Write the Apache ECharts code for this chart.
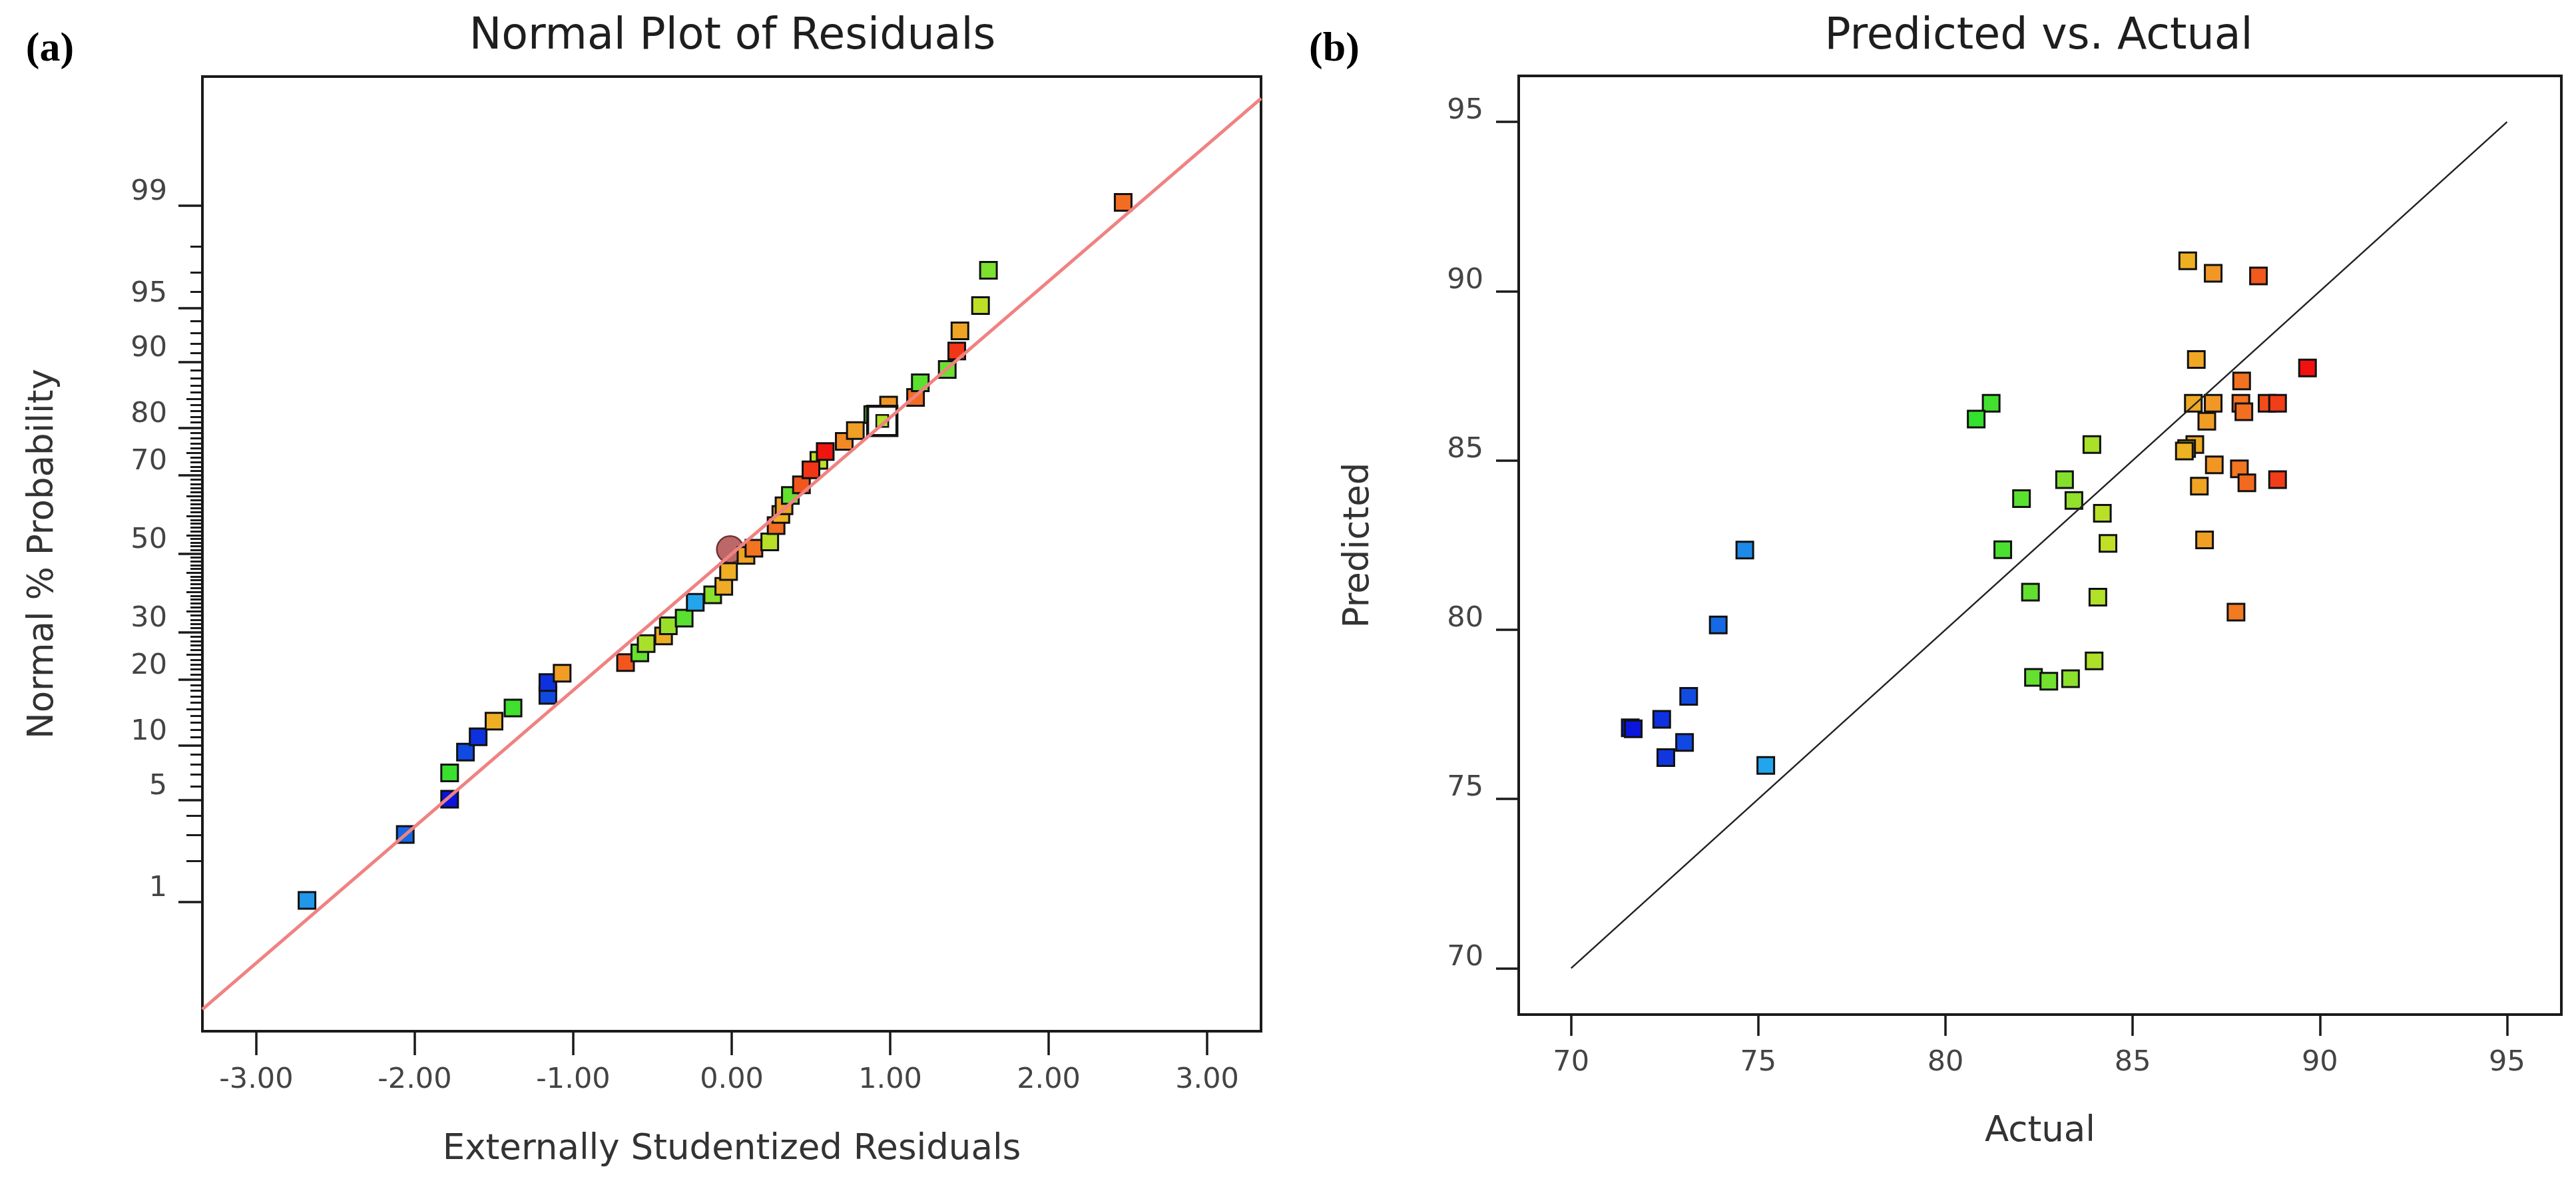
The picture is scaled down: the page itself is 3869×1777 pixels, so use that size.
<!DOCTYPE html>
<html><head><meta charset="utf-8">
<script src="https://cdn.jsdelivr.net/npm/echarts@6/dist/echarts.min.js"></script>
<style>html,body{margin:0;padding:0;background:#fff}#c{width:3869px;height:1777px}</style>
</head><body><div id="c"></div>
<script>
// ---------- Panel (a): Normal Plot of Residuals ----------
const residA = [-2.68,-2.06,-1.78,-1.78,-1.68,-1.60,-1.50,-1.38,-1.16,-1.16,-1.07,-0.67,-0.58,-0.54,-0.43,-0.40,-0.30,-0.23,-0.12,-0.05,-0.02,0.09,0.14,0.24,0.28,0.31,0.33,0.37,0.44,0.55,0.50,0.59,0.71,0.78,0.89,0.99,1.16,1.19,1.36,1.42,1.44,1.57,1.62,2.47];
const probA = [1.03,3.04,5.05,7.16,9.26,11.07,13.18,15.15,17.23,19.49,21.25,23.37,25.4,27.46,29.18,31.56,33.4,37.3,39.2,41.4,45.3,49.6,51.5,53.2,57.5,60.4,62.6,65.2,67.8,73.4,71.3,75.3,77.4,79.5,82.4,84.0,85.2,87.35,89.1,91.25,93.2,95.15,97.1,99.06];
const respA = [74.9,73.9,71.6,81.0,73.1,72.4,86.5,81.2,73.1,72.4,87.0,88.4,82.4,83.9,86.6,83.6,82.0,75.2,83.3,86.6,86.5,86.8,87.9,84.2,88.0,86.4,86.9,82.3,88.4,84.3,89.0,89.6,87.5,86.9,82.3,87.2,88.0,82.0,82.5,89.0,86.8,84.3,83.0,88.0];
const selResid = [0.95], selProb = [81.3], selResp = [84.1];
const markResid = [-0.01], markProb = [51.2];
const lineResid = [-3.34, 3.34], lineProb = [0.117, 99.883];
const residTicks = [-3, -2, -1, 0, 1, 2, 3];
const probLabels = [1, 5, 10, 20, 30, 50, 70, 80, 90, 95, 99];
const probMedium = [2, 3, 4, 15, 25, 35, 40, 45, 55, 60, 65, 75, 85];

// ---------- Panel (b): Predicted vs. Actual ----------
const actual = [73.93,73.14,72.42,71.58,71.66,73.03,72.53,75.2,74.64,82.27,82.35,82.76,83.34,83.97,84.07,86.47,87.15,88.36,86.7,89.67,87.91,81.22,80.82,86.62,87.15,87.89,87.97,88.59,88.87,86.98,83.91,86.66,86.44,86.38,87.18,87.85,88.05,88.87,86.78,83.18,82.03,83.43,84.19,81.53,84.34,86.92,87.76];
const predicted = [80.14,78.03,77.35,77.1,77.07,76.67,76.22,75.99,82.35,81.11,78.59,78.48,78.55,79.08,80.96,90.9,90.53,90.45,87.98,87.73,87.35,86.69,86.22,86.69,86.69,86.69,86.44,86.69,86.69,86.16,85.47,85.47,85.35,85.28,84.87,84.75,84.34,84.43,84.24,84.43,83.87,83.82,83.44,82.36,82.55,82.65,80.52];
const refLine = [70, 95];
const bTicks = [70, 75, 80, 85, 90, 95];

// inverse normal CDF (Acklam)
function probit(p){
  const a=[-3.969683028665376e+01,2.209460984245205e+02,-2.759285104469687e+02,1.383577518672690e+02,-3.066479806614716e+01,2.506628277459239e+00];
  const b=[-5.447609879822406e+01,1.615858368580409e+02,-1.556989798598866e+02,6.680131188771972e+01,-1.328068155288572e+01];
  const c=[-7.784894002430293e-03,-3.223964580411365e-01,-2.400758277161838e+00,-2.549732539343734e+00,4.374664141464968e+00,2.938163982698783e+00];
  const d=[7.784695709041462e-03,3.224671290700398e-01,2.445134137142996e+00,3.754408661907416e+00];
  const pl=0.02425, ph=1-pl; let q,r;
  if(p<pl){q=Math.sqrt(-2*Math.log(p));return (((((c[0]*q+c[1])*q+c[2])*q+c[3])*q+c[4])*q+c[5])/((((d[0]*q+d[1])*q+d[2])*q+d[3])*q+1);}
  if(p<=ph){q=p-0.5;r=q*q;return (((((a[0]*r+a[1])*r+a[2])*r+a[3])*r+a[4])*r+a[5])*q/(((((b[0]*r+b[1])*r+b[2])*r+b[3])*r+b[4])*r+1);}
  q=Math.sqrt(-2*Math.log(1-p));return -(((((c[0]*q+c[1])*q+c[2])*q+c[3])*q+c[4])*q+c[5])/((((d[0]*q+d[1])*q+d[2])*q+d[3])*q+1);
}
const zOf = pct => probit(pct / 100);
const majorZ = probLabels.map(zOf);
const mediumZ = probMedium.map(zOf);
const minorZ = [];
for (let p = 1; p <= 99; p++) if (!probLabels.includes(p) && !probMedium.includes(p)) minorZ.push(zOf(p));
function labelFor(v){
  let best = probLabels[0], bd = 1e9;
  probLabels.forEach(L => { const dd = Math.abs(zOf(L) - v); if (dd < bd) { bd = dd; best = L; } });
  return String(best);
}

const F = 'DejaVu Sans';
const AX = '#1a1a1a';
const palette = ['#0A14DC', '#1566E4', '#2CD0F4', '#2ED8A0', '#2EE02E', '#78E030', '#E8E020', '#F28C26', '#F01010'];
const zMin = -3.19, zMax = 3.19;

const dataA = residA.map((r, i) => [r, zOf(probA[i]), respA[i]]);
const dataSel = selResid.map((r, i) => [r, zOf(selProb[i]), selResp[i]]);
const dataMark = markResid.map((r, i) => [r, zOf(markProb[i])]);
const dataLineA = lineResid.map((r, i) => [r, zOf(lineProb[i])]);
const dataB = actual.map((a, i) => [a, predicted[i]]);
const dataLineB = refLine.map(v => [v, v]);

const chart = echarts.init(document.getElementById('c'), null, {renderer: 'canvas'});
chart.setOption({
  animation: false,
  backgroundColor: '#ffffff',
  title: [
    {text: 'Normal Plot of Residuals', left: 1100, top: 24, textAlign: 'center', padding: 0,
     textStyle: {fontFamily: F, fontSize: 65, fontWeight: 'normal', color: '#1e1e1e'}},
    {text: 'Predicted vs. Actual', left: 3062, top: 24, textAlign: 'center', padding: 0,
     textStyle: {fontFamily: F, fontSize: 65, fontWeight: 'normal', color: '#1e1e1e'}},
    {text: '(a)', left: 75, top: 44, textAlign: 'center', padding: 0,
     textStyle: {fontFamily: 'Liberation Serif', fontSize: 62, fontWeight: 'bold', color: '#000'}},
    {text: '(b)', left: 2004, top: 44, textAlign: 'center', padding: 0,
     textStyle: {fontFamily: 'Liberation Serif', fontSize: 62, fontWeight: 'bold', color: '#000'}}
  ],
  grid: [
    {left: 304, top: 115, width: 1590, height: 1434, show: true, borderColor: AX, borderWidth: 4, containLabel: false},
    {left: 2281, top: 114, width: 1566, height: 1410, show: true, borderColor: AX, borderWidth: 4, containLabel: false}
  ],
  xAxis: [
    {gridIndex: 0, type: 'value', min: -3.34, max: 3.34,
     axisLine: {show: true, onZero: false, lineStyle: {color: AX, width: 4}},
     axisTick: {show: true, inside: false, length: 36, customValues: residTicks, lineStyle: {color: AX, width: 3.5}},
     axisLabel: {show: true, customValues: residTicks, formatter: v => Number(v).toFixed(2), margin: 52, fontSize: 43, fontFamily: F, color: '#444'},
     splitLine: {show: false},
     name: 'Externally Studentized Residuals', nameLocation: 'middle', nameGap: 152,
     nameTextStyle: {fontFamily: F, fontSize: 53, color: '#333'}},
    {gridIndex: 1, type: 'value', min: 68.6, max: 96.45,
     axisLine: {show: true, onZero: false, lineStyle: {color: AX, width: 4}},
     axisTick: {show: true, inside: false, length: 32, customValues: bTicks, lineStyle: {color: AX, width: 3.5}},
     axisLabel: {show: true, customValues: bTicks, margin: 51, fontSize: 43, fontFamily: F, color: '#444'},
     splitLine: {show: false},
     name: 'Actual', nameLocation: 'middle', nameGap: 150,
     nameTextStyle: {fontFamily: F, fontSize: 53, color: '#333'}}
  ],
  yAxis: [
    {gridIndex: 0, type: 'value', min: zMin, max: zMax, position: 'left',
     axisLine: {show: true, onZero: false, lineStyle: {color: AX, width: 4}},
     axisTick: {show: true, inside: false, length: 36, customValues: majorZ, lineStyle: {color: AX, width: 3.5}},
     axisLabel: {show: true, customValues: majorZ, formatter: v => labelFor(v), margin: 53, fontSize: 43, fontFamily: F, color: '#444', verticalAlign: 'bottom', lineHeight: 40},
     splitLine: {show: false},
     name: 'Normal % Probability', nameLocation: 'middle', nameGap: 212,
     nameTextStyle: {fontFamily: F, fontSize: 53, color: '#333'}},
    {gridIndex: 0, type: 'value', min: zMin, max: zMax, position: 'left',
     axisLine: {show: false, onZero: false},
     axisTick: {show: true, inside: false, length: 24, customValues: mediumZ, lineStyle: {color: AX, width: 3}},
     axisLabel: {show: false}, splitLine: {show: false}},
    {gridIndex: 0, type: 'value', min: zMin, max: zMax, position: 'left',
     axisLine: {show: false, onZero: false},
     axisTick: {show: true, inside: false, length: 18, customValues: minorZ, lineStyle: {color: AX, width: 3}},
     axisLabel: {show: false}, splitLine: {show: false}},
    {gridIndex: 1, type: 'value', min: 68.63, max: 96.36, position: 'left',
     axisLine: {show: true, onZero: false, lineStyle: {color: AX, width: 4}},
     axisTick: {show: true, inside: false, length: 34, customValues: bTicks, lineStyle: {color: AX, width: 3.5}},
     axisLabel: {show: true, customValues: bTicks, margin: 53, fontSize: 43, fontFamily: F, color: '#444', verticalAlign: 'bottom', lineHeight: 32},
     splitLine: {show: false},
     name: 'Predicted', nameLocation: 'middle', nameGap: 213,
     nameTextStyle: {fontFamily: F, fontSize: 53, color: '#333'}}
  ],
  visualMap: [
    {type: 'continuous', show: false, seriesIndex: [2, 4], dimension: 2, min: 71.6, max: 89.7, inRange: {color: palette}},
    {type: 'continuous', show: false, seriesIndex: [6], dimension: 0, min: 71.6, max: 89.7, inRange: {color: palette}}
  ],
  series: [
    {type: 'line', xAxisIndex: 0, yAxisIndex: 0, data: dataLineA, symbol: 'none', clip: true,
     lineStyle: {color: '#F08282', width: 5}, silent: true},
    {type: 'scatter', xAxisIndex: 0, yAxisIndex: 0, data: dataMark, symbol: 'circle', symbolSize: 40,
     itemStyle: {color: '#BC6868', borderColor: '#6e3434', borderWidth: 2.5, opacity: 1}},
    {type: 'scatter', xAxisIndex: 0, yAxisIndex: 0, data: dataA, symbol: 'rect', symbolSize: 25,
     itemStyle: {borderColor: '#111', borderWidth: 3, opacity: 1}},
    {type: 'scatter', xAxisIndex: 0, yAxisIndex: 0, data: dataSel, symbol: 'rect', symbolSize: 44,
     itemStyle: {color: '#ffffff', borderColor: '#111', borderWidth: 4.5, opacity: 1}},
    {type: 'scatter', xAxisIndex: 0, yAxisIndex: 0, data: dataSel, symbol: 'rect', symbolSize: 18,
     itemStyle: {borderColor: '#111', borderWidth: 2.5, opacity: 1}},
    {type: 'line', xAxisIndex: 1, yAxisIndex: 3, data: dataLineB, symbol: 'none', clip: true,
     lineStyle: {color: '#222', width: 2.5}, silent: true},
    {type: 'scatter', xAxisIndex: 1, yAxisIndex: 3, data: dataB, symbol: 'rect', symbolSize: 25,
     itemStyle: {borderColor: '#111', borderWidth: 3, opacity: 1}}
  ]
});
</script>
</body></html>
